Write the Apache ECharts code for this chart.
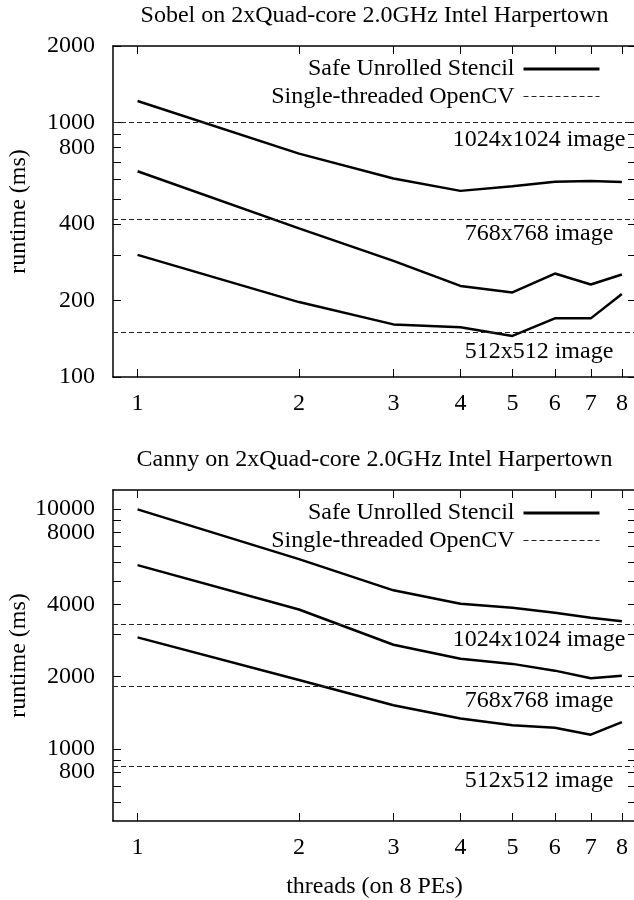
<!DOCTYPE html>
<html><head><meta charset="utf-8">
<script src="https://cdn.jsdelivr.net/npm/echarts@6/dist/echarts.min.js"></script>
<style>html,body{margin:0;padding:0;overflow:hidden;background:#fff}#c{width:640px;height:900px}</style>
</head><body><div id="c"></div>
<script>
// ---- data ----
const threads = [1, 2, 3, 4, 5, 6, 7, 8];
const sobel1024 = [1216, 755, 603, 539, 562, 586, 590, 584];
const sobel768 = [644, 384, 286, 228, 215, 255, 231, 253];
const sobel512 = [302, 197, 161, 157, 145, 170, 170, 212];
const sobelOpenCV = [1000, 417, 150];
const canny1024 = [9960, 6180, 4580, 4027, 3875, 3690, 3518, 3404];
const canny768 = [5834, 3811, 2717, 2373, 2260, 2118, 1968, 2018];
const canny512 = [2915, 1936, 1520, 1337, 1253, 1225, 1145, 1293];
const cannyOpenCV = [3319, 1827, 848];
const imageLabels = ['1024x1024 image', '768x768 image', '512x512 image'];
const xTicks = [1, 2, 3, 4, 5, 6, 7, 8];
const sobelYTicks = [100, 200, 300, 400, 500, 600, 700, 800, 900, 1000, 2000];
const sobelYLabels = [100, 200, 400, 800, 1000, 2000];
const cannyYTicks = [600, 700, 800, 900, 1000, 2000, 3000, 4000, 5000, 6000, 7000, 8000, 9000, 10000];
const cannyYLabels = [800, 1000, 2000, 4000, 8000, 10000];
const titles = ['Sobel on 2xQuad-core 2.0GHz Intel Harpertown', 'Canny on 2xQuad-core 2.0GHz Intel Harpertown'];
const seriesNames = ['Safe Unrolled Stencil', 'Single-threaded OpenCV'];
const xTitle = 'threads (on 8 PEs)';
const yTitle = 'runtime (ms)';

// ---- layout / style ----
const FONT = 'Liberation Serif';
const FS = 24;
const W = 640;
const gridTops = [46, 490];
const gridH = 331;
const yRanges = [[100, 2000], [500, 12000]];
const labelDy = [[5, 2, 8], [4, 3, 3]];
const txt = {fontFamily: FONT, fontSize: FS, color: '#000', fontWeight: 'normal'};

const panels = [
  {curves: [sobel1024, sobel768, sobel512], opencv: sobelOpenCV, yTicks: sobelYTicks, yLabels: sobelYLabels},
  {curves: [canny1024, canny768, canny512], opencv: cannyOpenCV, yTicks: cannyYTicks, yLabels: cannyYLabels}
];

const grid = [], xAxis = [], yAxis = [], series = [], legend = [], title = [];
panels.forEach((p, gi) => {
  grid.push({left: 113, right: W - 636, top: gridTops[gi], height: gridH, containLabel: false, outerBoundsMode: 'none'});
  title.push({text: titles[gi], left: 374.5, top: gridTops[gi] - 42, textAlign: 'center', padding: 0,
    textStyle: Object.assign({}, txt)});
  const axLine = {show: true, onZero: false, lineStyle: {color: '#000', width: 1.5}};
  const tickBase = {show: true, inside: true, length: 8, lineStyle: {color: '#000', width: 1}};
  const lblBase = {show: true, hideOverlap: false, showMinLabel: true, showMaxLabel: true, formatter: v => String(v)};
  const yBase = {type: 'log', logBase: 10, gridIndex: gi, min: yRanges[gi][0], max: yRanges[gi][1],
    splitLine: {show: false}, minorTick: {show: false}};
  xAxis.push({type: 'log', logBase: 2, gridIndex: gi, min: 0.9, max: 8.5, position: 'bottom',
    axisLine: axLine, splitLine: {show: false}, minorTick: {show: false},
    axisTick: Object.assign({customValues: xTicks}, tickBase),
    axisLabel: Object.assign({customValues: xTicks, margin: 15}, lblBase, txt),
    name: gi === 1 ? xTitle : '', nameLocation: 'middle', nameGap: 54, nameMoveOverlap: false,
    nameTextStyle: Object.assign({}, txt)});
  xAxis.push({type: 'log', logBase: 2, gridIndex: gi, min: 0.9, max: 8.5, position: 'top',
    axisLine: axLine, splitLine: {show: false}, minorTick: {show: false},
    axisTick: Object.assign({customValues: xTicks}, tickBase), axisLabel: {show: false}});
  // left axis: line, ticks, every other label
  const labelsA = p.yLabels.filter((v, i) => i % 2 === 0);
  const labelsB = p.yLabels.filter((v, i) => i % 2 === 1);
  yAxis.push(Object.assign({}, yBase, {position: 'left', offset: 0,
    axisLine: axLine,
    axisTick: Object.assign({customValues: p.yTicks}, tickBase),
    axisLabel: Object.assign({customValues: labelsA, margin: 18}, lblBase, txt),
    name: yTitle, nameLocation: 'middle', nameGap: 82, nameMoveOverlap: false,
    nameTextStyle: Object.assign({}, txt)}));
  // right mirror axis
  yAxis.push(Object.assign({}, yBase, {position: 'right',
    axisLine: axLine,
    axisTick: Object.assign({customValues: p.yTicks}, tickBase), axisLabel: {show: false}}));
  // second left axis carrying the remaining labels
  yAxis.push(Object.assign({}, yBase, {position: 'left', offset: 0,
    axisLine: {show: false}, axisTick: {show: false},
    axisLabel: Object.assign({customValues: labelsB, margin: 18}, lblBase, txt)}));
  p.curves.forEach(c => {
    series.push({type: 'line', name: seriesNames[0], xAxisIndex: gi * 2, yAxisIndex: gi * 3,
      data: threads.map((t, i) => [t, c[i]]), symbol: 'none', silent: true,
      lineStyle: {color: '#000', width: 2.5}, itemStyle: {color: '#000'}});
  });
  series.push({type: 'line', name: seriesNames[1], xAxisIndex: gi * 2, yAxisIndex: gi * 3,
    data: [], symbol: 'none', silent: true,
    lineStyle: {color: '#222', width: 1, type: [5, 3]}, itemStyle: {color: '#222'},
    markLine: {silent: true, symbol: ['none', 'none'], animation: false,
      lineStyle: {color: '#222', width: 1, type: [5, 3]},
      label: Object.assign({show: true, position: 'insideEndBottom', formatter: '{b}', align: 'center'}, txt),
      data: p.opencv.map((v, i) => ({yAxis: v, name: imageLabels[i], label: {distance: [97, labelDy[gi][i]]}}))
    }});
  legend.push({data: [{name: seriesNames[0], lineStyle: {width: 3}}, {name: seriesNames[1], lineStyle: {width: 1}}],
    orient: 'vertical', align: 'right', right: W - 601,
    top: gridTops[gi] + 11, itemWidth: 76, itemHeight: 24, itemGap: 3.5, selectedMode: false,
    padding: 0, itemStyle: {opacity: 0, borderWidth: 0}, textStyle: Object.assign({padding: [0, 4, 0, 0]}, txt)});
});

const chart = echarts.init(document.getElementById('c'), null, {renderer: 'canvas'});
chart.setOption({animation: false, backgroundColor: '#fff', grid, xAxis, yAxis, series, legend, title});
</script>
</body></html>
